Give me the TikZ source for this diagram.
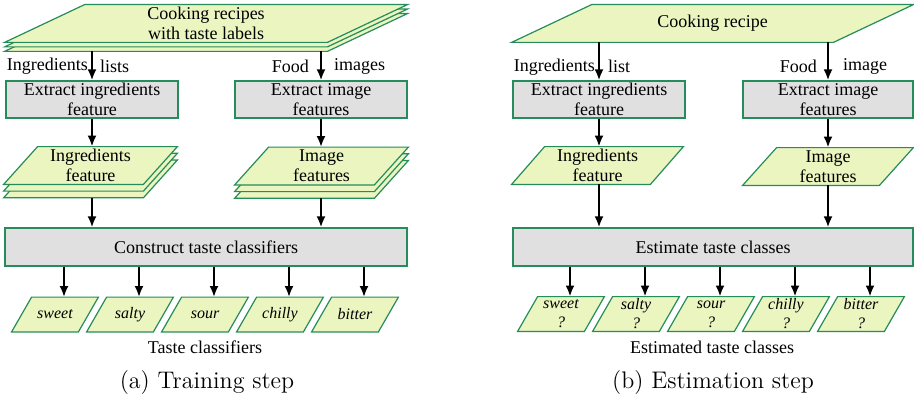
\documentclass[tikz,border=0pt]{standalone}
\usepackage{fontspec}
\newfontfamily\diagfont{Liberation Serif}
\usetikzlibrary{
  arrows.meta,
  backgrounds,
  positioning
}
\definecolor{edgegreen}{RGB}{38,140,92}
\definecolor{datafill}{RGB}{234,245,192}
\definecolor{procfill}{RGB}{224,224,224}
\tikzset{
  >={Latex[length=5.5pt,width=4.5pt]},
  flow/.style = {->, line width=1.2pt},
  datashape/.style = {draw=edgegreen, fill=datafill, line width=0.6pt},
  data/.style = {rectangle, inner sep=0pt, align=center,
                 font=\diagfont\fontsize{9}{10}\selectfont},
  proc/.style = {rectangle, draw=edgegreen, fill=procfill, line width=0.6pt,
                 inner sep=0pt, align=center,
                 font=\diagfont\fontsize{9}{10}\selectfont},
  taste/.style = {data, minimum width=43pt, minimum height=17pt,
                  font=\diagfont\itshape\fontsize{8}{9.5}\selectfont},
  lbl/.style = {inner sep=0pt, font=\diagfont\fontsize{9}{10}\selectfont},
  caption/.style = {inner sep=0pt, font=\fontsize{12}{14}\selectfont}
}
% parallelogram behind a data node: node, slant, drop
\newcommand\parashape[3]{%
  \begin{pgfonlayer}{background}
    \draw[datashape] ([yshift=-#3]#1.south west)
      -- ([xshift=-#2, yshift=-#3]#1.south east)
      -- ([yshift=-#3]#1.north east)
      -- ([xshift=#2, yshift=-#3]#1.north west) -- cycle;
  \end{pgfonlayer}}

\begin{document}
\begin{tikzpicture}[x=0.5pt, y=-0.5pt]
\useasboundingbox (0,0) rectangle (914,401);

% (a) training
\node[data, minimum width=201pt, minimum height=18.5pt]
      (recA) at (206,23.5) {Cooking recipes\\with taste labels};
\node[proc, minimum width=86pt, minimum height=18.5pt]
      (ingxA) at (92,99.5) {Extract ingredients\\feature};
\node[proc, minimum width=86pt, minimum height=18.5pt]
      (imgxA) at (321,99.5) {Extract image\\features};
\node[data, minimum width=86.5pt, minimum height=18.5pt]
      (ingfA) at (90.5,165.5) {Ingredients\\feature};
\node[data, minimum width=86.5pt, minimum height=18.5pt]
      (imgfA) at (321.5,166) {Image\\features};
\node[proc, minimum width=201pt, minimum height=19pt]
      (classA) at (206,247) {Construct taste classifiers};
\foreach \k in {2,1,0} {
  \parashape{recA}{40pt}{\k*2.25pt}
  \parashape{ingfA}{17pt}{\k*3.35pt}
  \parashape{imgfA}{17pt}{\k*3.35pt}
}

\draw[flow, shorten <=4.5pt] (recA.south -| ingxA.north) --
      node[lbl, pos=.63, left=1.5pt] {Ingredients}
      node[lbl, pos=.63, right=3.5pt] {lists} (ingxA.north);
\draw[flow, shorten <=4.5pt] (recA.south -| imgxA.north) --
      node[lbl, pos=.63, left=5.5pt] {Food}
      node[lbl, pos=.63, right=6pt] {images} (imgxA.north);
\draw[flow] (ingxA.south) -- (ingxA.south |- ingfA.north);
\draw[flow] (imgxA.south) -- (imgxA.south |- imgfA.north);
\draw[flow, shorten <=6.7pt] (ingfA.south -| ingxA.south) -- (classA.north -| ingxA.south);
\draw[flow, shorten <=6.7pt] (imgfA.south -| imgxA.south) -- (classA.north -| imgxA.south);

\foreach \tname [count=\i] in {sweet,salty,sour,chilly,bitter} {
  \node[taste] (\tname A) at ({55+75*(\i-1)},314.5) {\tname};
  \parashape{\tname A}{10pt}{0pt}
  \draw[flow] ([xshift=4.5pt]classA.south -| \tname A.north) -- ([xshift=4.5pt]\tname A.north);
}
\node[lbl] (tasteA) at (205,347) {Taste classifiers};
\node[caption] (capA) at (207,383) {(a) Training step};

% (b) estimation
\node[data, minimum width=200.5pt, minimum height=18.5pt]
      (recB) at (712.5,23.5) {Cooking recipe};
\node[proc, minimum width=86pt, minimum height=18.5pt]
      (ingxB) at (599,99.5) {Extract ingredients\\feature};
\node[proc, minimum width=85pt, minimum height=18.5pt]
      (imgxB) at (828,99.5) {Extract image\\features};
\node[data, minimum width=85.5pt, minimum height=18.5pt]
      (ingfB) at (597.5,165.5) {Ingredients\\feature};
\node[data, minimum width=85pt, minimum height=18.5pt]
      (imgfB) at (828,166.5) {Image\\features};
\node[proc, minimum width=200pt, minimum height=19pt]
      (estB) at (713,247) {Estimate taste classes};
\parashape{recB}{40pt}{0pt}
\parashape{ingfB}{16.5pt}{0pt}
\parashape{imgfB}{17pt}{0pt}

\draw[flow] (recB.south -| ingxB.north) --
      node[lbl, pos=.64, left=1.5pt] {Ingredients}
      node[lbl, pos=.64, right=4pt] {list} (ingxB.north);
\draw[flow] (recB.south -| imgxB.north) --
      node[lbl, pos=.64, left=5pt] {Food}
      node[lbl, pos=.64, right=7pt] {image} (imgxB.north);
\draw[flow] (ingxB.south) -- (ingxB.south |- ingfB.north);
\draw[flow] (imgxB.south) -- (imgxB.south |- imgfB.north);
\draw[flow] (ingfB.south -| ingxB.south) -- (estB.north -| ingxB.south);
\draw[flow] (imgfB.south -| imgxB.south) -- (estB.north -| imgxB.south);

\foreach \tname [count=\i] in {sweet,salty,sour,chilly,bitter} {
  \node[taste] (\tname B) at ({561+75*(\i-1)},314) {\tname\\?};
  \parashape{\tname B}{10pt}{0pt}
  \draw[flow] ([xshift=4.5pt]estB.south -| \tname B.north) -- ([xshift=4.5pt]\tname B.north);
}
\node[lbl] (tasteB) at (712,347) {Estimated taste classes};
\node[caption] (capB) at (713,383) {(b) Estimation step};
\end{tikzpicture}
\end{document}
